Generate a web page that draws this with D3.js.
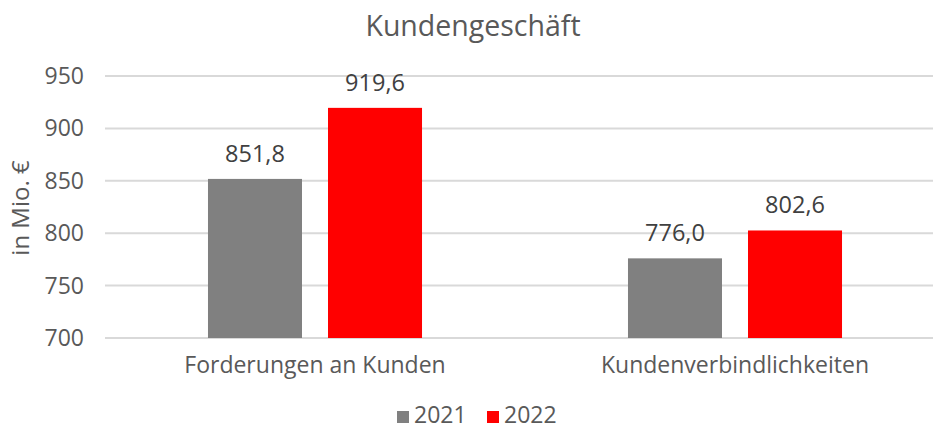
<!DOCTYPE html>
<html lang="de">
<head>
    <meta charset="UTF-8">
    <script src="https://d3js.org/d3.v7.min.js"></script>
    <style>
        body { margin: 0; background: #fff; }
        text { font-family: "Open Sans", sans-serif; }
    </style>
</head>
<body>
<div id="chart"></div>
<script>
    // data
    var categories = ["Forderungen an Kunden", "Kundenverbindlichkeiten"];
    var years = ["2021", "2022"];
    var values2021 = [851.8, 776.0];
    var values2022 = [919.6, 802.6];
    var yTicks = [700, 750, 800, 850, 900, 950];
    var colors = {"2021": "#808080", "2022": "#ff0000"};

    var width = 933, height = 425;

    var rows = categories.map(function(c, i) {
        return {cat: c, vals: [
            {year: "2021", value: values2021[i]},
            {year: "2022", value: values2022[i]}
        ]};
    });

    var x0 = d3.scaleBand().domain(categories).range([105, 945]);
    var x1 = d3.scaleBand().domain(years)
        .range([0, x0.bandwidth()])
        .paddingInner(0.2167)
        .paddingOuter(0.858);
    var y = d3.scaleLinear().domain([700, 950]).range([338, 76]);

    var svg = d3.select("#chart").append("svg")
        .attr("width", width)
        .attr("height", height);

    // gridlines
    svg.append("g")
        .selectAll("line")
        .data(yTicks)
        .join("line")
            .attr("x1", 105)
            .attr("x2", 945)
            .attr("y1", function(d) { return y(d); })
            .attr("y2", function(d) { return y(d); })
            .attr("stroke", "#d9d9d9")
            .attr("stroke-width", 2);

    // y tick labels
    svg.append("g")
        .selectAll("text")
        .data(yTicks)
        .join("text")
            .attr("x", 84)
            .attr("y", function(d) { return y(d); })
            .attr("dy", "0.35em")
            .attr("text-anchor", "end")
            .attr("font-size", 23)
            .attr("fill", "#595959")
            .text(function(d) { return d; });

    // bars
    var groups = svg.append("g")
        .selectAll("g")
        .data(rows)
        .join("g")
            .attr("transform", function(d) { return "translate(" + x0(d.cat) + ",0)"; });

    groups.selectAll("rect")
        .data(function(d) { return d.vals; })
        .join("rect")
            .attr("x", function(d) { return x1(d.year); })
            .attr("y", function(d) { return y(d.value); })
            .attr("width", x1.bandwidth())
            .attr("height", function(d) { return y(700) - y(d.value); })
            .attr("fill", function(d) { return colors[d.year]; });

    groups.selectAll("text")
        .data(function(d) { return d.vals; })
        .join("text")
            .attr("x", function(d) { return x1(d.year) + x1.bandwidth() / 2; })
            .attr("y", function(d) { return y(d.value) - 17; })
            .attr("text-anchor", "middle")
            .attr("font-size", 23.5)
            .attr("fill", "#404040")
            .text(function(d) { return d.value.toFixed(1).replace(".", ","); });

    // category labels
    svg.append("g")
        .selectAll("text")
        .data(categories)
        .join("text")
            .attr("x", function(d) { return x0(d) + x0.bandwidth() / 2; })
            .attr("y", 373)
            .attr("text-anchor", "middle")
            .attr("font-size", 23)
            .attr("fill", "#595959")
            .text(function(d) { return d; });

    // title
    svg.append("text")
        .attr("x", 473)
        .attr("y", 36)
        .attr("text-anchor", "middle")
        .attr("font-size", 28.5)
        .attr("fill", "#595959")
        .text("Kundengeschäft");

    // y axis title
    svg.append("text")
        .attr("transform", "translate(29,208) rotate(-90)")
        .attr("text-anchor", "middle")
        .attr("font-size", 24)
        .attr("fill", "#595959")
        .text("in Mio. €");

    // legend
    var legend = svg.append("g")
        .selectAll("g")
        .data(years)
        .join("g")
            .attr("transform", function(d, i) { return "translate(" + (397 + i * 90) + ",0)"; });

    legend.append("rect")
        .attr("y", 411)
        .attr("width", 12)
        .attr("height", 12)
        .attr("fill", function(d) { return colors[d]; });

    legend.append("text")
        .attr("x", 17)
        .attr("y", 423)
        .attr("font-size", 23)
        .attr("fill", "#595959")
        .text(function(d) { return d; });
</script>
</body>
</html>
